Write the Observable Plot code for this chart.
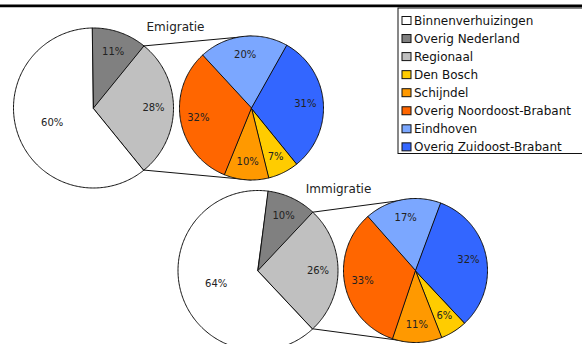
<!DOCTYPE html>
<html>
<head>
<meta charset="utf-8">
<script src="https://cdn.jsdelivr.net/npm/d3@7"></script>
<script src="https://cdn.jsdelivr.net/npm/@observablehq/plot@0.6"></script>
<style>
  html, body { margin: 0; padding: 0; background: #fff; }
  #chart { width: 582px; height: 344px; overflow: hidden; }
</style>
</head>
<body>
<div id="chart"></div>
<script>
// Legend order and colours of all categories
const categories = [
  "Binnenverhuizingen",
  "Overig Nederland",
  "Regionaal",
  "Den Bosch",
  "Schijndel",
  "Overig Noordoost-Brabant",
  "Eindhoven",
  "Overig Zuidoost-Brabant"
];
const categoryColors = [
  "#ffffff", "#808080", "#c0c0c0", "#ffcc00",
  "#ff9900", "#ff6600", "#7ba7ff", "#3366ff"
];

const titles = ["Emigratie", "Immigratie"];

// Primary pies: moves within the city, rest of the country, region
const mainCategories = ["Binnenverhuizingen", "Overig Nederland", "Regionaal"];
const emigratieMain = [60, 11, 28];
const immigratieMain = [64, 10, 26];

// Secondary pies: breakdown of "Regionaal"
const regionCategories = ["Den Bosch", "Schijndel", "Overig Noordoost-Brabant", "Eindhoven", "Overig Zuidoost-Brabant"];
const emigratieRegio = [7, 10, 32, 20, 31];
const immigratieRegio = [6, 11, 33, 17, 32];

const W = 582, H = 344;
const R_MAIN = 80, R_SUB = 72;
const panels = [
  {title: titles[0], main: emigratieMain, sub: emigratieRegio, mc: [93, 107.5], sc: [251, 107.5], tp: [175, 27]},
  {title: titles[1], main: immigratieMain, sub: immigratieRegio, mc: [257.5, 270], sc: [415, 270], tp: [338, 189]}
];

const pt = (c, r, a) => [c[0] + r * Math.sin(a), c[1] - r * Math.cos(a)];

const slicePoints = [];
const labels = [];
const connectors = [];

function addPie(key, names, values, c, r, start) {
  const total = d3.sum(values);
  const arcs = d3.pie().sort(null).value(d => d)
    .startAngle(start).endAngle(start + 2 * Math.PI)(values);
  arcs.forEach((a, i) => {
    const id = key + "-" + i;
    const n = Math.max(2, Math.ceil((a.endAngle - a.startAngle) / (Math.PI / 180)));
    slicePoints.push({id, category: names[i], x: c[0], y: c[1]});
    for (let k = 0; k <= n; k++) {
      const ang = a.startAngle + (a.endAngle - a.startAngle) * k / n;
      const [x, y] = pt(c, r, ang);
      slicePoints.push({id, category: names[i], x, y});
    }
    const mid = (a.startAngle + a.endAngle) / 2;
    const f = values[i] / total > 0.5 ? 0.55 : 0.75;
    const [lx, ly] = pt(c, r * f, mid);
    labels.push({x: lx, y: ly, text: values[i] + "%"});
  });
  return arcs;
}

panels.forEach((p, j) => {
  const total = d3.sum(p.main);
  // the "Regionaal" slice is centred on the right-hand side
  const start = Math.PI / 2 + (p.main[2] / total) * Math.PI;
  const arcs = addPie("m" + j, mainCategories, p.main, p.mc, R_MAIN, start);
  addPie("s" + j, regionCategories, p.sub, p.sc, R_SUB, start);
  const reg = arcs[2];
  const a = pt(p.mc, R_MAIN, reg.startAngle);
  const b = pt(p.mc, R_MAIN, reg.endAngle);
  connectors.push({x1: a[0], y1: a[1], x2: p.sc[0], y2: p.sc[1] - R_SUB});
  connectors.push({x1: b[0], y1: b[1], x2: p.sc[0], y2: p.sc[1] + R_SUB});
});

// Legend rows
const legendRows = categories.map((name, i) => ({name, y: 20.5 + 18.05 * i}));

const chart = Plot.plot({
  width: W,
  height: H,
  margin: 0,
  x: {domain: [0, W], range: [0, W], axis: null},
  y: {domain: [0, H], range: [0, H], axis: null},
  color: {domain: categories, range: categoryColors},
  style: {fontFamily: "'DejaVu Sans', sans-serif", background: "#fff", overflow: "hidden"},
  marks: [
    Plot.ruleY([5.4], {stroke: "#000", strokeWidth: 2.6}),
    Plot.link(connectors, {x1: "x1", y1: "y1", x2: "x2", y2: "y2", stroke: "#111", strokeWidth: 1}),
    Plot.line(slicePoints, {
      x: "x", y: "y", z: "id", fill: "category",
      stroke: "#111", strokeWidth: 1, strokeLinejoin: "round", curve: "linear-closed"
    }),
    Plot.text(labels, {x: "x", y: "y", text: "text", fontSize: 10, fill: "#222"}),
    Plot.text(panels, {x: d => d.tp[0], y: d => d.tp[1], text: "title", fontSize: 12, fill: "#222"}),
    // legend box
    Plot.rect([0], {x1: 398, x2: 600, y1: 8, y2: 153.5, fill: "#fff", stroke: "#111", strokeWidth: 1}),
    Plot.rect(legendRows, {
      x1: 402, x2: 411, y1: d => d.y - 4, y2: d => d.y + 4,
      fill: "name", stroke: "#111", strokeWidth: 1
    }),
    Plot.text(legendRows, {x: 413.5, y: "y", text: "name", textAnchor: "start", fontSize: 12, fill: "#111"})
  ]
});

document.getElementById("chart").appendChild(chart);
</script>
</body>
</html>
